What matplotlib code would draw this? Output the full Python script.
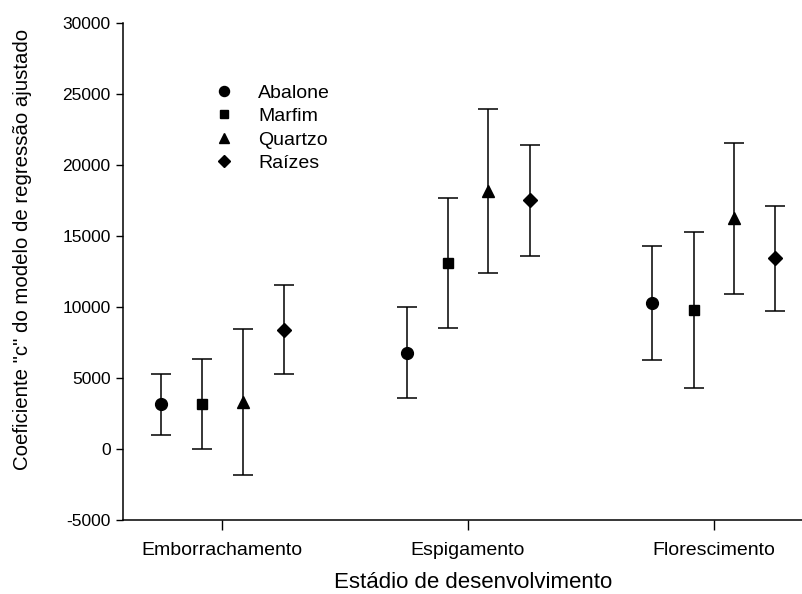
import matplotlib
matplotlib.use("Agg")
import matplotlib.pyplot as plt
from matplotlib.lines import Line2D
import numpy as np

plt.rcParams['font.family'] = ['Liberation Sans', 'DejaVu Sans']
plt.rcParams['axes.unicode_minus'] = False

stages = ["Emborrachamento", "Espigamento", "Florescimento"]
series = ["Abalone", "Marfim", "Quartzo", "Raízes"]
markers = ["o", "s", "^", "D"]
msizes = [8.5, 7, 8, 7]

means = {
    "Abalone": [3140, 6800, 10300],
    "Marfim":  [3170, 13100, 9790],
    "Quartzo": [3350, 18210, 16270],
    "Raízes":  [8420, 17560, 13450],
}
upper = {
    "Abalone": [5300, 10000, 14300],
    "Marfim":  [6360, 17720, 15300],
    "Quartzo": [8470, 23960, 21550],
    "Raízes":  [11590, 21450, 17150],
}
lower = {
    "Abalone": [960, 3610, 6290],
    "Marfim":  [-30, 8520, 4320],
    "Quartzo": [-1860, 12390, 10960],
    "Raízes":  [5280, 13630, 9740],
}
offsets = [-0.25, -0.083, 0.083, 0.25]

fig = plt.figure(figsize=(8.02, 5.94), dpi=100)
ax = fig.add_axes([123/802, 1-520/594, 1-123/802, (520-23.3)/594])

x = np.arange(1, len(stages) + 1)
handles = []
for s, m, ms, off in zip(series, markers, msizes, offsets):
    y = np.array(means[s])
    yerr = [y - np.array(lower[s]), np.array(upper[s]) - y]
    ax.errorbar(x + off, y, yerr=yerr, fmt=m, color='black', ms=ms,
                ecolor='black', elinewidth=1.1, capsize=7.5, capthick=1.1)
    handles.append(Line2D([], [], marker=m, color='black', linestyle='none', ms=ms*0.85))

ax.set_xlim(0.597, 3.358)
ax.set_ylim(-5000, 30000)
ax.set_yticks(np.arange(-5000, 30001, 5000))
ax.set_xticks(x)
ax.set_xticklabels(stages)
ax.spines['top'].set_visible(False)
ax.spines['right'].set_visible(False)
ax.spines['left'].set_linewidth(1.1)
ax.spines['bottom'].set_linewidth(1.1)
ax.tick_params(axis='y', direction='out', length=5, width=1, labelsize=12.5, pad=4)
ax.tick_params(axis='x', direction='out', length=7, width=1, labelsize=14, pad=9)
ax.set_xlabel("Estádio de desenvolvimento", fontsize=16)
ax.xaxis.set_label_coords(0.5155, -0.105)
ax.set_ylabel('Coeficiente "c" do modelo de regressão ajustado', fontsize=14.7)
ax.yaxis.set_label_coords(-0.134, 0.545)

leg = ax.legend(handles, series, loc='upper left', bbox_to_anchor=(0.12, 0.897),
                frameon=False, fontsize=14, handletextpad=1.25, labelspacing=0.3,
                handlelength=1.0, borderpad=0)

fig.savefig("out.png", dpi=100)
